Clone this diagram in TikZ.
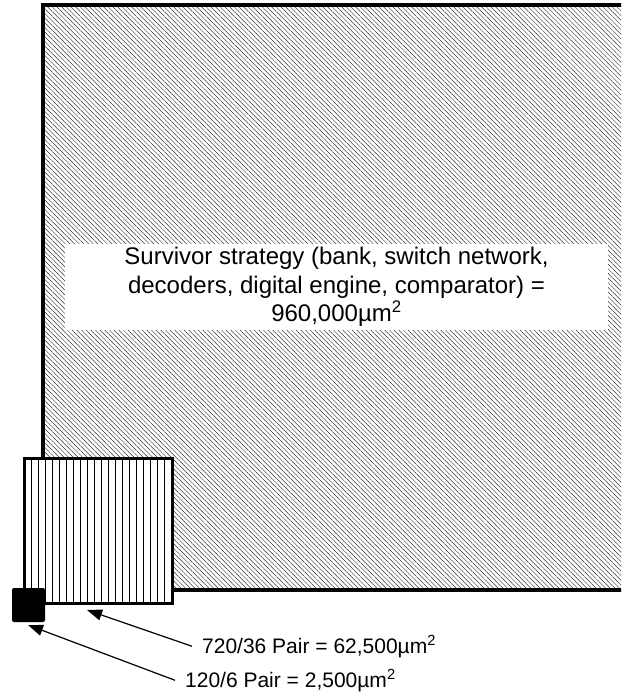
\documentclass[tikz,border=0pt]{standalone}
\usepackage{fontspec}
\setmainfont{Liberation Sans}
\usetikzlibrary{arrows.meta,patterns.meta}

\tikzset{
  wall/.style={draw=black,line width=3.5pt},
  note/.style={font=\fontsize{21}{25}\selectfont,anchor=base west,inner xsep=10pt},
  pointer/.style={-{Triangle[length=15pt,width=11pt]},line width=1.2pt},
}

\begin{document}
\begin{tikzpicture}[x=1pt,y=-1pt]
  \useasboundingbox (0,0) rectangle (621,692);
  \clip (0,0) rectangle (621,692);
  % survivor strategy block, runs off the right edge
  \draw[wall,pattern={Lines[angle=-45,distance=3.3pt,line width=0.45pt]},pattern color=black!80] (43,5) rectangle (650,590);
  \node[fill=white,minimum width=543pt,minimum height=84pt,align=center,
    font=\fontsize{24}{28.5}\selectfont] (area) at (336.5,287)
    {Survivor strategy (bank, switch network,\\decoders, digital engine, comparator) =\\960,000µm\textsuperscript{2}};
  % 720/36 pair
  \fill[white] (24.7,458.7) rectangle (172.5,603.5);
  \foreach \xx in {1,...,20}
    \draw[line width=0.8pt] (24.7+7*\xx,460) -- (24.7+7*\xx,602);
  \draw[wall] (24.7,458.7) rectangle (172.5,603.5);
  % 120/6 pair
  \fill[rounded corners=2pt] (12,588) rectangle (45,622);
  % labels
  \node[note] (bigpair) at (192,653) {720/36 Pair = 62,500µm\textsuperscript{2}};
  \node[note] (smallpair) at (175,687) {120/6 Pair = 2,500µm\textsuperscript{2}};
  \coordinate (bigtip) at (87,610);
  \coordinate (smalltip) at (28,625);
  \draw[pointer] (bigpair.west) -- (bigtip);
  \draw[pointer] (smallpair.west) -- (smalltip);
\end{tikzpicture}
\end{document}
